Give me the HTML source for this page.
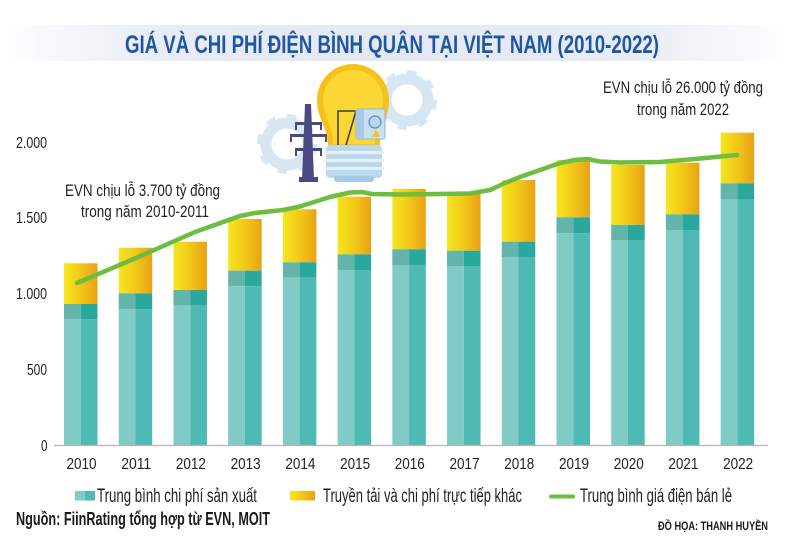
<!DOCTYPE html>
<html><head><meta charset="utf-8"><style>
html,body{margin:0;padding:0;background:#fff;}
svg{display:block;}
text{font-family:"Liberation Sans Narrow","Liberation Sans",sans-serif;}
</style></head><body>
<svg width="792" height="542" viewBox="0 0 792 542" xmlns="http://www.w3.org/2000/svg">
<defs>
<linearGradient id="yg" x1="0" x2="1" y1="0" y2="0">
<stop offset="0" stop-color="#f5e61f"/><stop offset="0.5" stop-color="#f2c818"/><stop offset="1" stop-color="#e8a215"/>
</linearGradient>
<linearGradient id="band" x1="0" x2="1" y1="0" y2="0">
<stop offset="0" stop-color="#ffffff"/><stop offset="0.2" stop-color="#e9ecf5"/><stop offset="0.5" stop-color="#e4e8f2"/><stop offset="0.8" stop-color="#e9ecf5"/><stop offset="1" stop-color="#ffffff"/>
</linearGradient>
</defs>
<rect width="792" height="542" fill="#fff"/>
<!-- title band -->
<rect x="0" y="25" width="792" height="36" fill="url(#band)"/>
<text x="125" y="53" font-size="25" font-weight="bold" fill="#1d56a3" textLength="534" lengthAdjust="spacingAndGlyphs">GIÁ VÀ CHI PHÍ ĐIỆN BÌNH QUÂN TẠI VIỆT NAM (2010-2022)</text>

<!-- illustration -->
<g>
<circle cx="407" cy="100" r="26" fill="none" stroke="#d6e6f3" stroke-width="8" stroke-dasharray="9 11.4"/>
<circle cx="407" cy="100" r="21" fill="none" stroke="#d6e6f3" stroke-width="11"/>
<circle cx="287" cy="144" r="26" fill="none" stroke="#d6e6f3" stroke-width="8" stroke-dasharray="9 11.4"/>
<circle cx="287" cy="144" r="21" fill="none" stroke="#d6e6f3" stroke-width="11"/>
<path d="M317,100 A36,36 0 1,1 389,100 C389,118 380,128 380,146 L328,146 C328,128 317,118 317,100 Z" fill="#f5c11b"/>
<path d="M323,100 A30,30 0 1,1 383,100 C383,116 375,126 375,144 L333,144 C333,126 323,116 323,100 Z" fill="#fbd735"/>
<path d="M338,145 L338,111 L356,111 L346,145" fill="none" stroke="#3b3b3b" stroke-width="1.5"/>
<rect x="326" y="145" width="56" height="33" rx="4" fill="#bcd8ef"/>
<rect x="324" y="151" width="60" height="3" rx="1.5" fill="#e6f0f9"/>
<rect x="324" y="159" width="60" height="3" rx="1.5" fill="#e6f0f9"/>
<rect x="324" y="167" width="60" height="3" rx="1.5" fill="#e6f0f9"/>
<rect x="334" y="176" width="40" height="6" rx="3" fill="#a7c8e6"/>
<rect x="356" y="109" width="29" height="30" rx="2" fill="#c9e0f2" stroke="#8fb3d6" stroke-width="1"/>
<rect x="356" y="109" width="8" height="30" fill="#a9c8e6"/>
<circle cx="375" cy="122" r="6" fill="#b9d5ee" stroke="#5f86b8" stroke-width="1.2"/>
<path d="M376,129 L380,137 L372,137 Z" fill="#f4c51c"/>
<g fill="#4b4882">
<path d="M305,104 L311,104 L314,180 L302,180 Z"/>
<rect x="295" y="122" width="27" height="3"/>
<rect x="290" y="134" width="37" height="3"/>
<rect x="295" y="148" width="27" height="3"/>
<rect x="299" y="177" width="19" height="5"/>
<rect x="295" y="125" width="2" height="5"/><rect x="320" y="125" width="2" height="5"/>
<rect x="290" y="137" width="2" height="5"/><rect x="325" y="137" width="2" height="5"/>
<rect x="295" y="151" width="2" height="5"/><rect x="320" y="151" width="2" height="5"/>
</g>
</g>

<!-- annotations -->
<text x="603" y="93" font-size="17" fill="#222" textLength="160" lengthAdjust="spacingAndGlyphs">EVN chịu lỗ  26.000 tỷ đồng</text>
<text x="637" y="115" font-size="17" fill="#222" textLength="92" lengthAdjust="spacingAndGlyphs">trong năm 2022</text>
<text x="65" y="196" font-size="17" fill="#222" textLength="155" lengthAdjust="spacingAndGlyphs">EVN chịu lỗ  3.700 tỷ đồng</text>
<text x="81" y="217" font-size="17" fill="#222" textLength="128" lengthAdjust="spacingAndGlyphs">trong năm 2010-2011</text>

<!-- y labels -->
<g font-size="16" fill="#222">
<text x="16" y="148" textLength="31" lengthAdjust="spacingAndGlyphs">2.000</text>
<text x="16" y="223" textLength="31" lengthAdjust="spacingAndGlyphs">1.500</text>
<text x="16" y="299" textLength="31" lengthAdjust="spacingAndGlyphs">1.000</text>
<text x="27" y="375" textLength="20" lengthAdjust="spacingAndGlyphs">500</text>
<text x="41" y="451" textLength="6.5" lengthAdjust="spacingAndGlyphs">0</text>
</g>

<!-- bars -->
<g id="bars">
<rect x="64" y="263.3" width="33.5" height="40.7" fill="url(#yg)"/>
<rect x="64" y="304" width="16.75" height="15.3" fill="#63b4aa"/><rect x="80.75" y="304" width="16.75" height="15.3" fill="#2ba89e"/>
<rect x="64" y="319.3" width="16.75" height="126.2" fill="#80cbc6"/><rect x="80.75" y="319.3" width="16.75" height="126.2" fill="#4fbab4"/>
<rect x="118.72" y="247.7" width="33.5" height="45.6" fill="url(#yg)"/>
<rect x="118.72" y="293.3" width="16.75" height="16" fill="#63b4aa"/><rect x="135.47" y="293.3" width="16.75" height="16" fill="#2ba89e"/>
<rect x="118.72" y="309.3" width="16.75" height="136.2" fill="#80cbc6"/><rect x="135.47" y="309.3" width="16.75" height="136.2" fill="#4fbab4"/>
<rect x="173.44" y="241.7" width="33.5" height="48.3" fill="url(#yg)"/>
<rect x="173.44" y="290" width="16.75" height="15.7" fill="#63b4aa"/><rect x="190.19" y="290" width="16.75" height="15.7" fill="#2ba89e"/>
<rect x="173.44" y="305.7" width="16.75" height="139.8" fill="#80cbc6"/><rect x="190.19" y="305.7" width="16.75" height="139.8" fill="#4fbab4"/>
<rect x="228.16" y="219" width="33.5" height="51.7" fill="url(#yg)"/>
<rect x="228.16" y="270.7" width="16.75" height="15.5" fill="#63b4aa"/><rect x="244.91" y="270.7" width="16.75" height="15.5" fill="#2ba89e"/>
<rect x="228.16" y="286.2" width="16.75" height="159.3" fill="#80cbc6"/><rect x="244.91" y="286.2" width="16.75" height="159.3" fill="#4fbab4"/>
<rect x="282.88" y="209.3" width="33.5" height="53" fill="url(#yg)"/>
<rect x="282.88" y="262.3" width="16.75" height="15.4" fill="#63b4aa"/><rect x="299.63" y="262.3" width="16.75" height="15.4" fill="#2ba89e"/>
<rect x="282.88" y="277.7" width="16.75" height="167.8" fill="#80cbc6"/><rect x="299.63" y="277.7" width="16.75" height="167.8" fill="#4fbab4"/>
<rect x="337.6" y="196.7" width="33.5" height="57.6" fill="url(#yg)"/>
<rect x="337.6" y="254.3" width="16.75" height="15.7" fill="#63b4aa"/><rect x="354.35" y="254.3" width="16.75" height="15.7" fill="#2ba89e"/>
<rect x="337.6" y="270" width="16.75" height="175.5" fill="#80cbc6"/><rect x="354.35" y="270" width="16.75" height="175.5" fill="#4fbab4"/>
<rect x="392.32" y="189" width="33.5" height="60.3" fill="url(#yg)"/>
<rect x="392.32" y="249.3" width="16.75" height="16.4" fill="#63b4aa"/><rect x="409.07" y="249.3" width="16.75" height="16.4" fill="#2ba89e"/>
<rect x="392.32" y="265.7" width="16.75" height="179.8" fill="#80cbc6"/><rect x="409.07" y="265.7" width="16.75" height="179.8" fill="#4fbab4"/>
<rect x="447.04" y="191.7" width="33.5" height="59" fill="url(#yg)"/>
<rect x="447.04" y="250.7" width="16.75" height="15.3" fill="#63b4aa"/><rect x="463.79" y="250.7" width="16.75" height="15.3" fill="#2ba89e"/>
<rect x="447.04" y="266" width="16.75" height="179.5" fill="#80cbc6"/><rect x="463.79" y="266" width="16.75" height="179.5" fill="#4fbab4"/>
<rect x="501.76" y="180" width="33.5" height="61.7" fill="url(#yg)"/>
<rect x="501.76" y="241.7" width="16.75" height="15.3" fill="#63b4aa"/><rect x="518.51" y="241.7" width="16.75" height="15.3" fill="#2ba89e"/>
<rect x="501.76" y="257" width="16.75" height="188.5" fill="#80cbc6"/><rect x="518.51" y="257" width="16.75" height="188.5" fill="#4fbab4"/>
<rect x="556.48" y="160" width="33.5" height="57.3" fill="url(#yg)"/>
<rect x="556.48" y="217.3" width="16.75" height="16" fill="#63b4aa"/><rect x="573.23" y="217.3" width="16.75" height="16" fill="#2ba89e"/>
<rect x="556.48" y="233.3" width="16.75" height="212.2" fill="#80cbc6"/><rect x="573.23" y="233.3" width="16.75" height="212.2" fill="#4fbab4"/>
<rect x="611.2" y="165" width="33.5" height="60" fill="url(#yg)"/>
<rect x="611.2" y="225" width="16.75" height="15" fill="#63b4aa"/><rect x="627.95" y="225" width="16.75" height="15" fill="#2ba89e"/>
<rect x="611.2" y="240" width="16.75" height="205.5" fill="#80cbc6"/><rect x="627.95" y="240" width="16.75" height="205.5" fill="#4fbab4"/>
<rect x="665.92" y="162.7" width="33.5" height="51.6" fill="url(#yg)"/>
<rect x="665.92" y="214.3" width="16.75" height="15.7" fill="#63b4aa"/><rect x="682.67" y="214.3" width="16.75" height="15.7" fill="#2ba89e"/>
<rect x="665.92" y="230" width="16.75" height="215.5" fill="#80cbc6"/><rect x="682.67" y="230" width="16.75" height="215.5" fill="#4fbab4"/>
<rect x="720.64" y="132.7" width="33.5" height="50.6" fill="url(#yg)"/>
<rect x="720.64" y="183.3" width="16.75" height="15.7" fill="#63b4aa"/><rect x="737.39" y="183.3" width="16.75" height="15.7" fill="#2ba89e"/>
<rect x="720.64" y="199" width="16.75" height="246.5" fill="#80cbc6"/><rect x="737.39" y="199" width="16.75" height="246.5" fill="#4fbab4"/>
</g>

<line x1="54" y1="445.5" x2="768" y2="445.5" stroke="#b4b4b4" stroke-width="1.2"/>

<path d="M77,283 L136,258 L195,232 L240,216 L255,213 L283,210 L300,206.5 L330,197 L350,192.5 L362,192 L372,194 L400,194.5 L440,194 L470,193.5 L490,190 L505,183 L520,177 L540,170 L560,163 L575,160 L587,159 L600,161.5 L620,162.5 L660,162 L700,158.5 L737,155" fill="none" stroke="#6dbd3f" stroke-width="4.5" stroke-linejoin="round" stroke-linecap="round"/>

<g font-size="16" fill="#222" text-anchor="middle">
<text x="81.5" y="469" textLength="30" lengthAdjust="spacingAndGlyphs">2010</text>
<text x="136.2" y="469" textLength="30" lengthAdjust="spacingAndGlyphs">2011</text>
<text x="190.9" y="469" textLength="30" lengthAdjust="spacingAndGlyphs">2012</text>
<text x="245.6" y="469" textLength="30" lengthAdjust="spacingAndGlyphs">2013</text>
<text x="300.4" y="469" textLength="30" lengthAdjust="spacingAndGlyphs">2014</text>
<text x="355.1" y="469" textLength="30" lengthAdjust="spacingAndGlyphs">2015</text>
<text x="409.8" y="469" textLength="30" lengthAdjust="spacingAndGlyphs">2016</text>
<text x="464.5" y="469" textLength="30" lengthAdjust="spacingAndGlyphs">2017</text>
<text x="519.2" y="469" textLength="30" lengthAdjust="spacingAndGlyphs">2018</text>
<text x="574" y="469" textLength="30" lengthAdjust="spacingAndGlyphs">2019</text>
<text x="628.7" y="469" textLength="30" lengthAdjust="spacingAndGlyphs">2020</text>
<text x="683.4" y="469" textLength="30" lengthAdjust="spacingAndGlyphs">2021</text>
<text x="738.1" y="469" textLength="30" lengthAdjust="spacingAndGlyphs">2022</text>
</g>

<rect x="75" y="491" width="10" height="9.5" fill="#80cbc6"/><rect x="85" y="491" width="10" height="9.5" fill="#4fbab4"/>
<text x="97" y="502" font-size="19" fill="#222" textLength="160" lengthAdjust="spacingAndGlyphs">Trung bình chi phí sản xuất</text>
<rect x="290" y="491" width="25" height="9.5" fill="url(#yg)"/>
<text x="323" y="502" font-size="19" fill="#222" textLength="199" lengthAdjust="spacingAndGlyphs">Truyền tải và chi phí trực tiếp khác</text>
<line x1="551" y1="496.5" x2="573" y2="496.5" stroke="#6dbd3f" stroke-width="4" stroke-linecap="round"/>
<text x="580" y="502" font-size="19" fill="#222" textLength="152" lengthAdjust="spacingAndGlyphs">Trung bình giá điện bán lẻ</text>

<text x="16" y="525" font-size="18" font-weight="bold" fill="#1a1a1a" textLength="254" lengthAdjust="spacingAndGlyphs">Nguồn: FiinRating tổng hợp từ EVN, MOIT</text>
<text x="658" y="530" font-size="12" font-weight="bold" fill="#1a1a1a" textLength="110" lengthAdjust="spacingAndGlyphs">ĐỒ HỌA: THANH HUYỀN</text>
</svg>
</body></html>
